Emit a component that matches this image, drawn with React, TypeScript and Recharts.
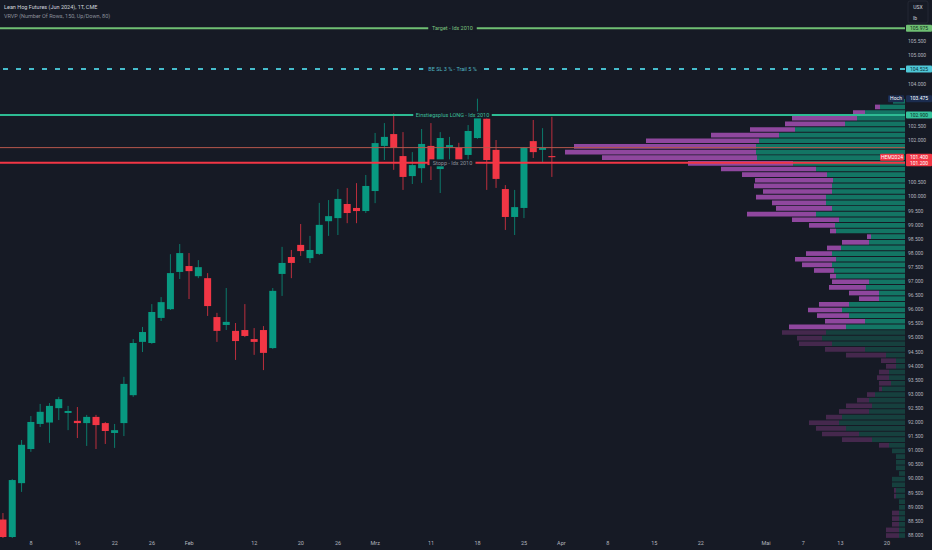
import React from 'react';
import { Bar, ComposedChart, ReferenceArea, ReferenceLine, XAxis, YAxis } from 'recharts';

const BG = '#161a25';
const TEXT = '#b2b5be';
const UP = '#089981';
const DOWN = '#f23645';
const FONT = 'Roboto, "Liberation Sans", sans-serif';

// trading-day index, 0 = 2 Jan 2024 (holidays skipped)
const days = [
  1, 2, 3, 4, 5, 6, 7, 8, 9, 10, 11, 12, 13, 14, 15, 16, 17, 18, 19, 20,
  21, 22, 23, 24, 25, 26, 27, 28, 29, 30, 31, 32, 33, 34, 35, 36, 37, 38, 39, 40,
  41, 42, 43, 44, 45, 46, 47, 48, 49, 50, 51, 52, 53, 54, 55, 56, 57, 58, 59, 60,
];
const opens = [
  88.55, 87.93, 89.84, 91.05, 91.94, 91.99, 92.5, 92.33, 92.05, 91.97,
  92.19, 91.97, 91.62, 91.97, 92.96, 94.85, 94.81, 95.7, 96.01, 97.33,
  97.54, 97.18, 97.11, 95.73, 95.45, 95.24, 95.27, 94.95, 95.27, 94.63,
  97.26, 97.86, 98.29, 97.82, 97.97, 99.13, 99.24, 99.74, 99.6, 99.49,
  100.2, 101.8, 102.22, 101.44, 100.73, 101.01, 101.8, 100.98, 101.76, 101.73,
  101.48, 102.08, 102.77, 101.66, 100.27, 99.28, 99.6, 101.97, 101.66, 101.44,
];
const highs = [
  88.78, 89.98, 91.37, 92.22, 92.65, 92.68, 92.9, 92.58, 92.54, 92.26,
  92.26, 92.01, 91.94, 93.61, 94.95, 95.38, 96.19, 96.44, 97.96, 98.32,
  98.0, 97.75, 97.29, 95.88, 96.76, 95.52, 96.19, 95.34, 95.41, 96.76,
  98.22, 98.11, 99.03, 98.61, 99.78, 99.88, 100.27, 100.31, 100.48, 100.77,
  102.26, 102.61, 102.95, 102.29, 101.58, 102.4, 102.61, 102.29, 102.12, 101.91,
  102.54, 103.475, 102.96, 102.01, 100.41, 100.24, 101.76, 102.72, 102.43, 102.83,
];
const lows = [
  87.88, 87.88, 89.53, 90.95, 91.83, 91.27, 92.08, 91.72, 91.44, 91.16,
  91.05, 91.23, 91.09, 91.51, 92.9, 94.49, 94.78, 95.59, 95.98, 97.08,
  96.37, 97.11, 95.77, 94.85, 95.27, 94.21, 95.02, 94.39, 93.85, 94.6,
  96.48, 97.11, 97.9, 97.65, 97.93, 98.61, 98.64, 99.06, 99.06, 99.42,
  99.77, 101.3, 100.95, 100.24, 100.45, 100.49, 100.59, 100.13, 101.12, 101.09,
  101.27, 102.05, 100.24, 100.31, 98.82, 98.64, 99.24, 101.37, 101.23, 100.7,
];
const closes = [
  87.93, 89.95, 91.2, 92.01, 92.37, 92.58, 92.82, 92.4, 91.97, 92.19,
  91.9, 91.69, 91.72, 93.36, 94.81, 95.2, 95.91, 96.26, 97.29, 98.0,
  97.36, 97.5, 96.12, 95.24, 95.56, 94.88, 95.06, 94.85, 94.46, 96.66,
  97.65, 97.65, 98.07, 98.11, 99.0, 99.31, 99.92, 99.42, 99.49, 100.38,
  101.9, 102.12, 101.73, 100.7, 101.12, 101.87, 101.12, 102.08, 101.83, 101.2,
  102.33, 102.95, 101.3, 100.63, 99.28, 99.63, 101.73, 101.58, 101.73, 101.4,
];

const xTickIdx = [4, 9, 13, 17, 21, 28, 33, 37, 41, 47, 52, 57, 61, 66, 71, 76, 83, 87, 91, 96];
const xTickLabels = ['8', '16', '22', '26', 'Feb', '12', '20', '26', 'Mrz', '11', '18', '25', 'Apr', '8', '15', '22', 'Mai', '7', '13', '20'];
const priceTicks = [
  88, 88.5, 89, 89.5, 90, 90.5, 91, 91.5, 92, 92.5, 93, 93.5, 94, 94.5, 95, 95.5,
  96, 96.5, 97, 97.5, 98, 98.5, 99, 99.5, 100, 100.5, 102, 102.5, 104, 105, 105.5,
];

// volume profile rows (row low price), up / down volume
const rowLows = [
  87.9, 88.1, 88.3, 88.5, 88.7, 88.9, 89.1, 89.3, 89.5, 89.7, 89.9, 90.1, 90.3, 90.5, 90.7, 90.9,
  91.1, 91.3, 91.5, 91.7, 91.9, 92.1, 92.3, 92.5, 92.7, 92.9, 93.1, 93.3, 93.5, 93.7, 93.9, 94.1,
  94.3, 94.5, 94.7, 94.9, 95.1, 95.3, 95.5, 95.7, 95.9, 96.1, 96.3, 96.5, 96.7, 96.9, 97.1, 97.3,
  97.5, 97.7, 97.9, 98.1, 98.3, 98.5, 98.7, 98.9, 99.1, 99.3, 99.5, 99.7, 99.9, 100.1, 100.3, 100.5,
  100.7, 100.9, 101.1, 101.3, 101.5, 101.7, 101.9, 102.1, 102.3, 102.5, 102.7, 102.9, 103.1, 103.3,
];
const upVol = [
  0.6, 0.6, 0.6, 0.6, 0.6, 0.6, 0.6, 0.9, 0.9, 1.3, 1.3, 0.6, 0.9, 0.9, 0.9, 1.3,
  1.6, 3.3, 4.6, 5.9, 6.6, 6.3, 3.6, 3.3, 3.6, 3.0, 2.3, 1.4, 1.6, 1.6, 0.9, 0.9,
  1.9, 4.0, 7.3, 8.3, 7.9, 5.9, 4.0, 5.6, 6.3, 5.6, 2.6, 2.6, 3.9, 3.6, 6.9, 7.1,
  7.3, 6.9, 7.3, 6.4, 3.6, 3.4, 6.9, 7.0, 6.6, 8.9, 7.3, 7.9, 7.9, 7.3, 7.3, 7.2,
  7.8, 8.9, 11.2, 14.8, 14.9, 14.9, 14.6, 12.6, 11.0, 6.0, 4.8, 4.0, 2.5, 1.2,
];
const downVol = [
  1.3, 1.3, 0.7, 0.7, 0.7, 0, 0, 0.2, 0.2, 0, 0, 0, 0, 0, 0, 0,
  1.0, 3.0, 3.7, 3.0, 3.0, 1.6, 3.0, 2.6, 1.2, 0.8, 0.3, 1.2, 1.2, 1.0, 1.0, 1.5,
  4.0, 4.0, 3.3, 2.5, 4.4, 5.7, 4.0, 3.2, 3.4, 3.0, 2.0, 3.0, 3.7, 3.7, 0.6, 2.0,
  3.0, 4.1, 2.6, 1.4, 2.7, 0.4, 0.6, 2.6, 4.7, 6.9, 5.6, 5.4, 7.0, 6.9, 7.8, 7.8,
  8.5, 9.5, 10.5, 15.5, 19.1, 18.2, 11.3, 6.8, 4.5, 6.0, 6.5, 1.2, 0.5, 0,
];
const valueAreaLow = 95.3;

// x domain (trading-day index) and the profile's full-width volume
const X_MIN = 0.666;
const X_MAX = 97.94;
const VOL_FULL = 90.5;
const volToX = (v: number) => X_MAX - (v / VOL_FULL) * (X_MAX - X_MIN);

const candles = days.map((i, k) => ({ i, o: opens[k], h: highs[k], l: lows[k], c: closes[k] }));

function Candle(props: any) {
  const { x, y, width, height, payload } = props;
  if (!payload) return null;
  const top = Math.min(y, y + height);
  const h = Math.abs(height);
  const k = h / (payload.h - payload.l || 1);
  const py = (p: number) => top + (payload.h - p) * k;
  const cx = x + width / 2;
  const color = payload.c >= payload.o ? UP : DOWN;
  const bodyTop = py(Math.max(payload.o, payload.c));
  const bodyH = Math.max(1, Math.abs(py(payload.o) - py(payload.c)));
  return (
    <g>
      <line x1={cx} x2={cx} y1={top} y2={top + h} stroke={color} strokeOpacity={0.75} strokeWidth={1} />
      <rect x={cx - 3.5} y={bodyTop} width={7} height={bodyH} fill={color} />
    </g>
  );
}

type Tag = {
  text?: string;
  textColor?: string;
  badge?: string;
  badgeBg?: string;
  badgeFg?: string;
  side?: string;
  sideBg?: string;
  sideW?: number;
};

function lineTag(tag: Tag) {
  return (props: any) => {
    const vb = props.viewBox || {};
    const x0 = vb.x ?? 0;
    const w = vb.width ?? 905;
    const y = vb.y ?? 0;
    const right = x0 + w;
    const cx = x0 + w / 2;
    const tw = tag.text ? tag.text.length * 2.5 + 6 : 0;
    return (
      <g fontFamily={FONT}>
        {tag.text && (
          <g>
            <rect x={cx - tw / 2} y={y - 3.5} width={tw} height={7} fill={BG} />
            <text x={cx} y={y} dy="0.35em" textAnchor="middle" fontSize={5.5} fill={tag.textColor}>
              {tag.text}
            </text>
          </g>
        )}
        {tag.side && (
          <g>
            <rect x={right - (tag.sideW ?? 16) - 1} y={y - 3.5} width={tag.sideW ?? 16} height={7} rx={1} fill={tag.sideBg} />
            <text x={right - (tag.sideW ?? 16) / 2 - 1} y={y} dy="0.35em" textAnchor="middle" fontSize={5} fill="#ffffff">
              {tag.side}
            </text>
          </g>
        )}
        {tag.badge && (
          <g>
            <rect x={right + 1} y={y - 3.5} width={26} height={7} rx={1} fill={tag.badgeBg} />
            <text x={right + 14} y={y} dy="0.35em" textAnchor="middle" fontSize={5} fill={tag.badgeFg}>
              {tag.badge}
            </text>
          </g>
        )}
      </g>
    );
  };
}

export default function App() {
  return (
    <div style={{ position: 'absolute', left: 0, top: 0, width: 932, height: 550, background: BG }}>
      <ComposedChart
        width={932}
        height={550}
        data={candles}
        margin={{ top: 0, right: 0, bottom: 0, left: 0 }}
        style={{ fontFamily: FONT }}
      >
        <XAxis
          xAxisId="main"
          dataKey="i"
          type="number"
          domain={[X_MIN, X_MAX]}
          allowDataOverflow
          ticks={xTickIdx}
          interval={0}
          tickFormatter={(v: number) => xTickLabels[xTickIdx.indexOf(v)] ?? ''}
          height={12}
          tickSize={0}
          tickMargin={3}
          axisLine={false}
          tickLine={false}
          tick={{ fill: TEXT, fontSize: 5.5 }}
        />
        <YAxis
          yAxisId="p"
          orientation="right"
          type="number"
          domain={[87.895, 106.975]}
          allowDataOverflow
          ticks={priceTicks}
          interval={0}
          width={27}
          tickSize={0}
          tickMargin={3}
          axisLine={false}
          tickLine={false}
          tickFormatter={(v: number) => v.toFixed(3)}
          tick={{ fill: TEXT, fontSize: 5 }}
        />

        <ReferenceLine xAxisId="main" yAxisId="p" y={101.74} stroke="#b5574c" strokeWidth={1} />
        <ReferenceLine
          xAxisId="main"
          yAxisId="p"
          y={101.2}
          stroke="#f23645"
          strokeWidth={2}
          label={lineTag({ text: 'Stopp - Idx 2010', textColor: '#8b8f9a', badge: '101.200', badgeBg: '#f23645', badgeFg: '#ffffff' })}
        />

        {rowLows.map((lo, k) => (
          <ReferenceArea
            key={`u${k}`}
            xAxisId="main"
            yAxisId="p"
            x1={volToX(upVol[k])}
            x2={X_MAX}
            y1={lo}
            y2={lo + 0.165}
            fill={lo >= valueAreaLow ? '#13806c' : '#164541'}
            fillOpacity={0.9}
            stroke="none"
          />
        ))}
        {rowLows.map((lo, k) =>
          downVol[k] > 0 ? (
            <ReferenceArea
              key={`d${k}`}
              xAxisId="main"
              yAxisId="p"
              x1={volToX(upVol[k] + downVol[k])}
              x2={volToX(upVol[k])}
              y1={lo}
              y2={lo + 0.165}
              fill={lo >= valueAreaLow ? '#9c4dac' : '#4a2a52'}
              fillOpacity={0.9}
              stroke="none"
            />
          ) : null,
        )}

        <Bar
          xAxisId="main"
          yAxisId="p"
          dataKey={(d: any) => [d.l, d.h]}
          barSize={7}
          isAnimationActive={false}
          shape={(p: any) => <Candle {...p} />}
        />

        <ReferenceLine
          xAxisId="main"
          yAxisId="p"
          y={105.975}
          stroke="#6fbf73"
          strokeWidth={2}
          label={lineTag({ text: 'Target - Idx 2010', textColor: '#7cc47f', badge: '105.975', badgeBg: '#6fbf73', badgeFg: '#10301a' })}
        />
        <ReferenceLine
          xAxisId="main"
          yAxisId="p"
          y={104.525}
          stroke="#45bccb"
          strokeWidth={2}
          strokeDasharray="5 8"
          label={lineTag({ text: 'BE SL 3 % - Trail 5 %', textColor: '#4fb6c3', badge: '104.525', badgeBg: '#4fc8d8', badgeFg: '#0e2f35' })}
        />
        <ReferenceLine
          xAxisId="main"
          yAxisId="p"
          y={103.475}
          stroke="transparent"
          label={lineTag({ side: 'Hoch', sideBg: '#1b2c4f', badge: '103.475', badgeBg: '#1b2c4f', badgeFg: '#ffffff' })}
        />
        <ReferenceLine
          xAxisId="main"
          yAxisId="p"
          y={102.9}
          stroke="#2dbb93"
          strokeWidth={2}
          label={lineTag({ text: 'Einstiegsplus LONG - Idx 2010', textColor: '#3cbf9a', badge: '102.900', badgeBg: '#35c29b', badgeFg: '#0d3026' })}
        />
        <ReferenceLine
          xAxisId="main"
          yAxisId="p"
          y={101.4}
          stroke="transparent"
          label={lineTag({ side: 'HEM2024', sideBg: '#f23645', sideW: 24, badge: '101.400', badgeBg: '#f23645', badgeFg: '#ffffff' })}
        />
      </ComposedChart>

      <svg
        width={932}
        height={550}
        style={{ position: 'absolute', left: 0, top: 0, pointerEvents: 'none' }}
        fontFamily={FONT}
      >
        <text x={4} y={9} fontSize={5.5} fill="#d1d4dc">
          Lean Hog Futures (Jun 2024), 1T, CME
        </text>
        <text x={4} y={17.5} fontSize={5.5} fill="#8c909b">
          VRVP (Number Of Rows, 150, Up/Down, 80)
        </text>
        <rect x={908} y={1} width={20} height={22} rx={2} fill="none" stroke="#2a2e39" strokeWidth={0.7} />
        <text x={918} y={8.5} fontSize={5} fill="#d1d4dc" textAnchor="middle">
          USX
        </text>
        <text x={915} y={20} fontSize={5} fill="#d1d4dc" textAnchor="middle">
          lb
        </text>
      </svg>
    </div>
  );
}
